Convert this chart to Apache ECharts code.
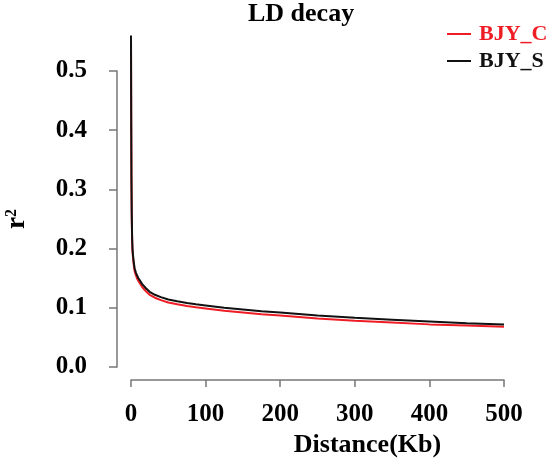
<!DOCTYPE html>
<html>
<head>
<meta charset="utf-8">
<script src="https://cdn.jsdelivr.net/npm/echarts@6/dist/echarts.min.js"></script>
<style>
  html, body { margin: 0; padding: 0; background: #fff; }
  #chart { width: 548px; height: 469px; }
</style>
</head>
<body>
<div id="chart"></div>
<script>
// distance in Kb
const distances = [0, 0.3, 0.6, 1, 1.5, 2, 3, 4, 5, 6.5, 8, 10, 12, 15, 20, 25, 32, 40, 50, 62, 75, 87, 100, 125, 150, 175, 200, 250, 300, 350, 400, 450, 500]
// r^2 per population
const bjyC = [0.55, 0.41, 0.31, 0.25, 0.215, 0.195, 0.18, 0.169, 0.161, 0.155, 0.150, 0.145, 0.141, 0.135, 0.128, 0.122, 0.117, 0.113, 0.109, 0.106, 0.103, 0.101, 0.099, 0.095, 0.092, 0.089, 0.087, 0.082, 0.078, 0.075, 0.072, 0.070, 0.068]
const bjyS = [0.56, 0.42, 0.32, 0.26, 0.22, 0.20, 0.185, 0.174, 0.166, 0.160, 0.155, 0.150, 0.146, 0.140, 0.133, 0.127, 0.122, 0.118, 0.114, 0.111, 0.108, 0.106, 0.104, 0.100, 0.097, 0.094, 0.092, 0.087, 0.083, 0.080, 0.077, 0.074, 0.072]
const seriesNames = ['BJY_C', 'BJY_S']
const seriesColors = ['#ee1c24', '#111111']

const font = 'Liberation Serif'
const chart = echarts.init(document.getElementById('chart'))

function pairs(vals) {
  return distances.map((d, i) => [d, vals[i]])
}

const option = {
  animation: false,
  title: {
    text: 'LD decay',
    left: 248,
    top: 1,
    padding: 0,
    textStyle: { fontFamily: font, fontWeight: 'bold', fontSize: 26, color: '#000' },
  },
  legend: {
    orient: 'vertical',
    left: 447,
    top: 23,
    padding: 0,
    itemWidth: 24,
    itemHeight: 14,
    itemGap: 5,
    icon: 'path://M0,12 L24,12 L24,14 L0,14 Z',
    data: [
      { name: 'BJY_C', textStyle: { color: seriesColors[0] } },
      { name: 'BJY_S', textStyle: { color: seriesColors[1] } },
    ],
    textStyle: { fontFamily: font, fontWeight: 'bold', fontSize: 22, lineHeight: 21, padding: [0, 0, 0, 3] },
  },
  grid: { left: 131, right: 44, top: 71, bottom: 102, outerBoundsMode: 'none' },
  xAxis: {
    type: 'value',
    min: 0,
    max: 500,
    interval: 100,
    offset: 13,
    name: 'Distance(Kb)',
    nameLocation: 'middle',
    nameGap: 52,
    nameTextStyle: { fontFamily: font, fontWeight: 'bold', fontSize: 26, color: '#000', padding: [0, 0, 0, 100] },
    splitLine: { show: false },
    axisLine: { onZero: false, lineStyle: { color: '#777', width: 1.5 } },
    axisTick: { length: 7, lineStyle: { color: '#777', width: 1.5 } },
    axisLabel: { margin: 22, fontFamily: font, fontWeight: 'bold', fontSize: 25, color: '#000' },
  },
  yAxis: {
    type: 'value',
    min: 0,
    max: 0.5,
    interval: 0.1,
    offset: 14,
    name: '{r|r}{s|2}',
    nameLocation: 'middle',
    nameRotate: 90,
    nameGap: 86,
    nameTextStyle: {
      rich: {
        r: { fontFamily: font, fontWeight: 'bold', fontSize: 27, lineHeight: 27, color: '#000' },
        s: { fontFamily: font, fontWeight: 'bold', fontSize: 16, lineHeight: 27, verticalAlign: 'top', color: '#000' },
      },
    },
    splitLine: { show: false },
    axisLine: { show: true, onZero: false, lineStyle: { color: '#777', width: 1.5 } },
    axisTick: { show: true, length: 8, lineStyle: { color: '#777', width: 1.5 } },
    axisLabel: {
      margin: 30,
      fontFamily: font,
      fontWeight: 'bold',
      fontSize: 25,
      color: '#000',
      formatter: v => v.toFixed(1),
    },
  },
  series: seriesNames.map((name, i) => ({
    name,
    type: 'line',
    data: pairs(i === 0 ? bjyC : bjyS),
    showSymbol: false,
    clip: false,
    lineStyle: { color: seriesColors[i], width: 2 },
    itemStyle: { color: seriesColors[i] },
  })),
}

chart.setOption(option)
</script>
</body>
</html>
